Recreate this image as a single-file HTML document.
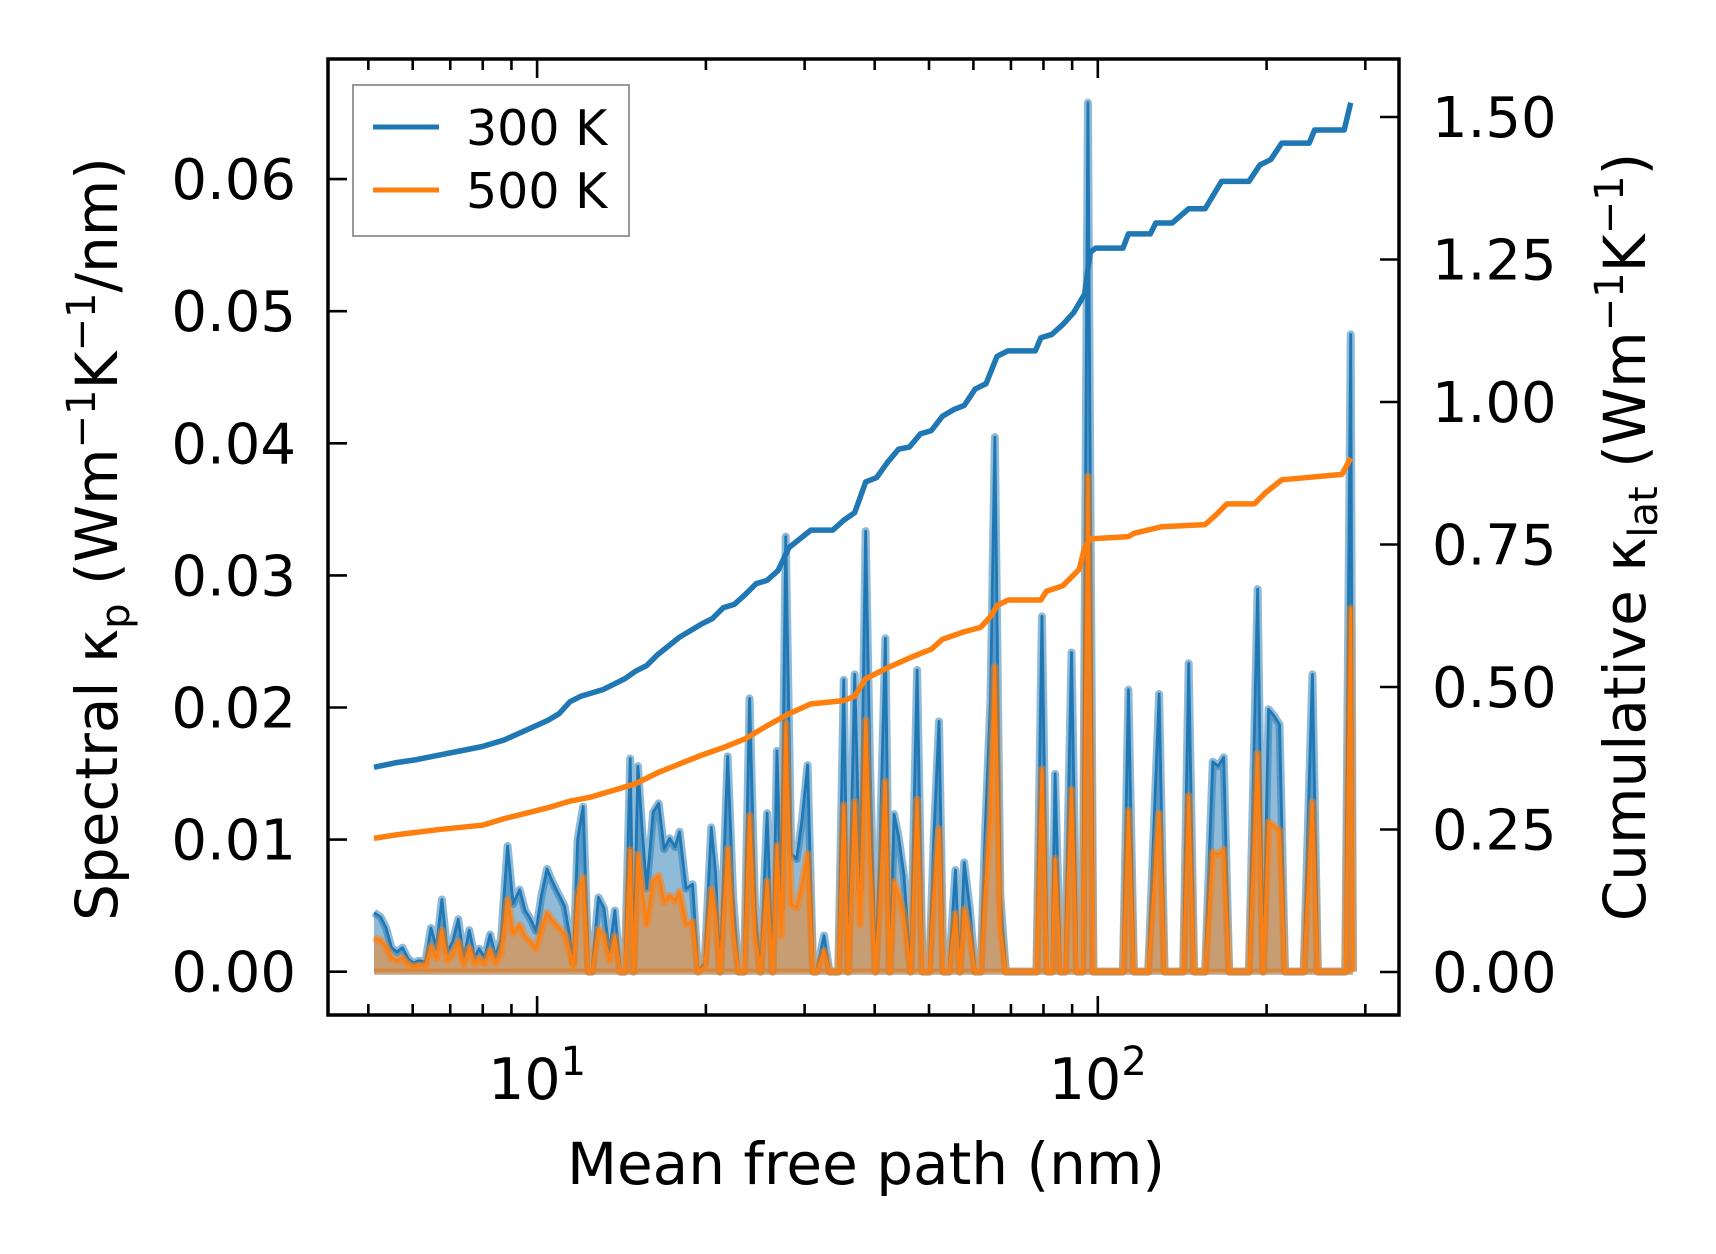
<!DOCTYPE html>
<html><head><meta charset="utf-8">
<style>
html,body{margin:0;padding:0;background:#fff;}
svg{display:block;font-family:"DejaVu Sans","Liberation Sans",sans-serif;}
</style></head>
<body>
<svg id="s" width="1716" height="1254" viewBox="0 0 1716 1254" xmlns="http://www.w3.org/2000/svg">
<rect width="1716" height="1254" fill="#fff"/>
<g id="data" transform="matrix(1.095 0 0 1.093 0.6 1.07)"></g>
<g id="ticks" stroke="#000" stroke-width="2.6"></g>
<rect x="328" y="59" width="1071" height="956" fill="none" stroke="#000" stroke-width="3.5"/>
<g id="labels" font-size="56" fill="#000"></g>
<!-- legend -->
<rect x="353" y="85" width="276" height="151" fill="#fff" fill-opacity="0.8" stroke="#999" stroke-width="2"/>
<line x1="373" y1="127" x2="439" y2="127" stroke="#1f77b4" stroke-width="5"/>
<line x1="373" y1="190" x2="439" y2="190" stroke="#ff7f0e" stroke-width="5"/>
<text x="466" y="145" font-size="49">300 K</text>
<text x="466" y="208" font-size="49">500 K</text>
<text x="866" y="1184" font-size="58" text-anchor="middle">Mean free path (nm)</text>
<text transform="translate(117,539) rotate(-90)" font-size="58" text-anchor="middle">Spectral κ<tspan font-size="40" dy="12">p</tspan><tspan dy="-12"> (Wm</tspan><tspan font-size="40" dy="-22">−1</tspan><tspan dy="22">K</tspan><tspan font-size="40" dy="-22">−1</tspan><tspan dy="22">/nm)</tspan></text>
<text transform="translate(1645,537) rotate(-90)" font-size="58" text-anchor="middle">Cumulative κ<tspan font-size="40" dy="12">lat</tspan><tspan dy="-12"> (Wm</tspan><tspan font-size="40" dy="-22">−1</tspan><tspan dy="22">K</tspan><tspan font-size="40" dy="-22">−1</tspan><tspan dy="22">)</tspan></text>
</svg>
<script>
var NS="http://www.w3.org/2000/svg";
function el(p,t,a,txt){var e=document.createElementNS(NS,t);for(var k in a)e.setAttribute(k,a[k]);if(txt!==undefined)e.textContent=txt;p.appendChild(e);return e;}
var D=document.getElementById("data"),T=document.getElementById("ticks"),L=document.getElementById("labels");
var blue=[341,834,347,838,352,848,357,866,362,870,367,866,372,876,377,880,382,878,388,879,393,848,398,866,403,822,408,870,413,860,418,840,423,876,428,850,433,875,437,867,442,875,447,854,452,874,457,858,463,773,468,826,474,813,479,832,484,840,489,851,494,818,499,794,504,806,510,818,515,828,520,857,523,880,527,767,532,737,537,888,540,888,546,820,551,830,556,870,561,832,566,888,570,888,575,693,578,888,582,700,586,760,590,812,596,742,601,734,606,776,611,766,616,774,620,760,626,812,632,808,637,888,643,880,649,756,653,798,657,888,664,691,669,820,674,888,679,888,684,638,689,830,694,888,700,743,705,888,709,686,713,830,717,490,722,780,727,785,732,748,737,699,742,888,745,888,752,855,757,888,765,888,770,621,774,888,780,616,785,812,790,485,794,700,799,888,803,777,808,583,812,888,816,744,820,764,825,800,831,888,837,612,842,888,848,888,852,771,857,659,861,888,866,888,872,795,876,888,880,788,885,829,890,888,895,888,899,763,904,640,908,399,913,818,918,888,925,888,946,888,951,563,956,888,960,888,963,707,968,888,972,888,978,596,983,888,988,888,993,93,998,888,1025,888,1030,630,1035,888,1048,888,1058,634,1063,888,1080,888,1085,606,1090,888,1100,888,1107,696,1112,700,1117,692,1122,888,1140,888,1148,538,1153,888,1158,648,1163,654,1168,662,1173,888,1190,888,1198,616,1203,888,1228,888,1233,305,1235,888];
var orange=[];for(var i=0;i<blue.length;i+=2){orange.push(blue[i],888-0.57*(888-blue[i+1]));}
function pts(a){var s="";for(var i=0;i<a.length;i+=2)s+=a[i]+","+a[i+1].toFixed(1)+" ";return s;}
function spec(a,c){
 var p=pts(a);
 el(D,"polygon",{points:"341,888 "+p+"1235,888",fill:c,"fill-opacity":0.5,stroke:"none"});
 el(D,"polyline",{points:p,fill:"none",stroke:c,"stroke-opacity":0.5,"stroke-width":8,"vector-effect":"non-scaling-stroke","stroke-linejoin":"round"});
 el(D,"polyline",{points:p,fill:"none",stroke:c,"stroke-width":2.8,"vector-effect":"non-scaling-stroke","stroke-linejoin":"round"});
 el(D,"line",{x1:341,y1:888,x2:1235,y2:888,stroke:c,"stroke-opacity":0.5,"stroke-width":6,"vector-effect":"non-scaling-stroke"});
}
spec(blue,"#1f77b4");spec(orange,"#ff7f0e");
var cb=[341,701,360,697,380,694,400,690,420,686,440,682,460,676,480,667,500,658,510,652,520,641,530,636,550,630,570,620,580,613,590,608,600,598,620,582,640,570,650,565,660,555,670,552,680,543,690,533,700,530,710,521,720,500,740,484,760,484,770,475,780,468,790,440,800,436,810,422,820,410,830,408,840,396,850,393,860,380,870,374,880,370,890,355,900,350,910,325,920,320,945,320,950,308,960,305,970,296,980,285,990,268,995,230,1000,226,1025,226,1030,213,1050,213,1055,203,1070,203,1085,190,1100,190,1115,165,1140,165,1150,150,1160,145,1170,130,1195,130,1200,118,1227,118,1233,93];
var co=[341,766,360,763,400,758,440,754,460,748,480,743,500,738,520,732,540,728,560,722,580,716,600,706,620,698,640,690,660,683,680,675,700,663,720,652,740,643,770,640,780,636,790,620,810,610,830,601,850,593,860,584,880,577,895,573,905,562,910,553,920,548,950,548,955,540,970,535,985,520,990,500,995,492,1030,490,1035,487,1060,481,1100,479,1110,470,1120,460,1145,460,1155,450,1170,438,1225,433,1233,418];
el(D,"polyline",{points:pts(cb),fill:"none",stroke:"#1f77b4","stroke-width":5.5,"vector-effect":"non-scaling-stroke","stroke-linejoin":"round"});
el(D,"polyline",{points:pts(co),fill:"none",stroke:"#ff7f0e","stroke-width":5.5,"vector-effect":"non-scaling-stroke","stroke-linejoin":"round"});
// ticks
var X0=328,X1=1399,Y0=59,Y1=1015;
function lx(v){return 537.1+(Math.log10(v)-1)*560.7;}
var maj=[10,100],mins=[5,6,7,8,9,20,30,40,50,60,70,80,90,200,300];
maj.forEach(function(v){var x=lx(v);el(T,"line",{x1:x,y1:Y1,x2:x,y2:Y1-19});el(T,"line",{x1:x,y1:Y0,x2:x,y2:Y0+19});});
mins.forEach(function(v){var x=lx(v);if(x<X0||x>X1)return;el(T,"line",{x1:x,y1:Y1,x2:x,y2:Y1-11});el(T,"line",{x1:x,y1:Y0,x2:x,y2:Y0+11});});
for(var k=0;k<=6;k++){var y=971.7-k*132.1;el(T,"line",{x1:X0,y1:y,x2:X0+19,y2:y});
 el(L,"text",{x:296,y:y+20,"text-anchor":"end"},"0.0"+k);}
var rl=["0.00","0.25","0.50","0.75","1.00","1.25","1.50"];
for(var k=0;k<=6;k++){var y=972-k*142.5;el(T,"line",{x1:X1,y1:y,x2:X1-19,y2:y});
 el(L,"text",{x:1432,y:y+20},rl[k]);}
[[10,"1"],[100,"2"]].forEach(function(a){var x=lx(a[0]);var t=el(L,"text",{x:x,y:1099,"text-anchor":"middle","font-size":57});
 t.appendChild(document.createTextNode("10"));var s=el(t,"tspan",{"font-size":40,dy:-24},a[1]);});
</script>
</body></html>
